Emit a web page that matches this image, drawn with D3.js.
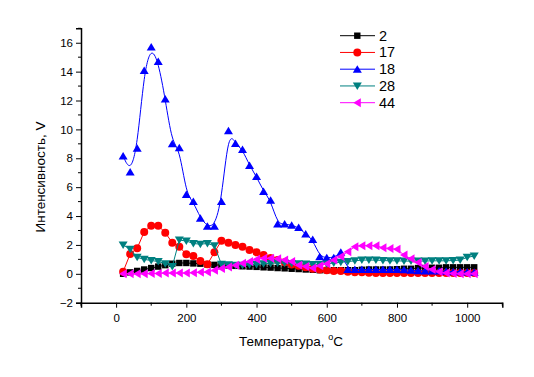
<!DOCTYPE html>
<html><head><meta charset="utf-8">
<script src="https://cdn.jsdelivr.net/npm/d3@7/dist/d3.min.js"></script>
<style>body{margin:0;background:#fff}svg{display:block}text{font-family:"Liberation Sans",Arial,sans-serif}</style>
</head><body>
<script>
const temps = d3.range(20, 1021, 20);
const s2 = [0.0,0.1,0.2,0.3,0.4,0.5,0.6,0.7,0.75,0.75,0.72,0.7,0.65,0.62,0.6,0.58,0.55,0.52,0.5,0.48,0.45,0.43,0.4,0.38,0.35,0.33,0.3,0.28,0.25,0.25,0.25,0.25,0.25,0.25,0.28,0.3,0.3,0.3,0.3,0.32,0.35,0.35,0.4,0.4,0.42,0.42,0.45,0.45,0.45,0.45,0.45];
const s17 = [0.15,1.37,1.77,2.9,3.33,3.33,2.85,2.15,1.88,1.35,1.23,0.89,0.66,1.49,2.29,2.15,2.0,1.88,1.65,1.49,1.3,1.1,0.95,0.8,0.65,0.55,0.45,0.35,0.3,0.25,0.2,0.2,0.15,0.1,0.1,0.08,0.05,0.05,0.05,0.05,0.05,0.05,0.05,0.05,0.05,0.05,0.05,0.05,0.05,0.05,0.05];
const s18 = [8.16,7.05,8.69,14.07,15.7,14.7,12.1,9.0,8.73,5.5,5.0,3.84,3.3,3.3,5.0,9.9,9.03,8.6,7.5,6.73,5.7,5.1,3.45,3.45,3.37,3.2,2.75,2.38,1.19,1.12,1.12,1.5,0.3,0.3,0.3,0.3,0.3,0.3,0.3,0.3,0.28,0.25,0.22,0.2,0.2,0.2,0.18,0.15,0.15,0.12,0.1];
const s28 = [2.0,1.7,1.14,1.0,0.92,0.85,0.7,0.5,2.34,2.27,2.1,2.05,2.1,1.95,0.66,0.62,0.6,0.6,0.62,0.65,0.7,0.72,0.75,0.75,0.72,0.7,0.68,0.65,0.65,0.68,0.75,0.8,0.85,0.9,0.95,0.95,0.95,0.92,0.9,0.9,0.88,0.88,0.88,0.88,0.9,0.9,0.9,0.92,0.95,1.14,1.23];
const s44 = [0.0,0.0,0.0,0.0,0.02,0.03,0.05,0.05,0.05,0.06,0.08,0.1,0.13,0.25,0.36,0.48,0.6,0.73,0.85,1.0,1.07,1.07,1.05,0.95,0.85,0.6,0.5,0.4,0.55,0.7,0.95,1.2,1.53,1.88,1.95,1.95,1.95,1.8,1.75,1.7,1.3,1.04,0.78,0.5,0.3,0.15,0.05,0.02,0.0,0.0,0.0];
const seriesNames = ["2","17","18","28","44"];
const xTicks = [0,200,400,600,800,1000];
const yTicks = [-2,0,2,4,6,8,10,12,14,16];

const series = [
  {name:"2", values:s2, color:"#000000", shape:"square", curve:d3.curveLinear},
  {name:"17", values:s17, color:"#ff0000", shape:"circle", curve:d3.curveLinear},
  {name:"18", values:s18, color:"#0000ff", shape:"up", curve:d3.curveBasis},
  {name:"28", values:s28, color:"#008080", shape:"down", curve:d3.curveLinear},
  {name:"44", values:s44, color:"#ff00ff", shape:"left", curve:d3.curveLinear}
];

const W=534,H=377;
const svg=d3.select("body").append("svg").attr("width",W).attr("height",H);
const x=d3.scaleLinear().domain([-100,1100]).range([81,502.3]);
const y=d3.scaleLinear().domain([-2,17]).range([302.7,28.3]);

function marker(shape){
  const r=4;
  switch(shape){
    case "square": return `M${-3.2},${-3.2}h6.4v6.4h-6.4z`;
    case "circle": return d3.symbol(d3.symbolCircle, 50)();
    case "up": return `M0,${-r}L${r+0.5},${r-0.5}L${-r-0.5},${r-0.5}Z`;
    case "down": return `M0,${r}L${r+0.5},${-r+0.5}L${-r-0.5},${-r+0.5}Z`;
    case "left": return `M${-r},0L${r-0.5},${-r-0.5}L${r-0.5},${r+0.5}Z`;
  }
}

// axes
const xAxis=d3.axisBottom(x).tickValues(xTicks).tickSize(5).tickFormat(d3.format("d"));
const gx=svg.append("g").attr("transform",`translate(0,${y(-2)})`).call(xAxis);
const xMinor=d3.range(-100,1101,100).filter(v=>!xTicks.includes(v));
gx.selectAll(".minor").data(xMinor).enter().append("line").attr("x1",d=>x(d)).attr("x2",d=>x(d)).attr("y1",0).attr("y2",3).attr("stroke","#000");
const yAxis=d3.axisLeft(y).tickValues(yTicks).tickSize(5);
const gy=svg.append("g").attr("transform",`translate(${x(-100)},0)`).call(yAxis);
const yMinor=d3.range(-1,17.01,2);
gy.selectAll(".minor").data(yMinor).enter().append("line").attr("x1",0).attr("x2",-3).attr("y1",d=>y(d)).attr("y2",d=>y(d)).attr("stroke","#000");
[gx,gy].forEach(g=>{g.select(".domain").attr("stroke-width",1.5);g.selectAll("text").attr("font-size",11.5).attr("fill","#000").attr("font-family","Liberation Sans, Arial, sans-serif");});
gx.selectAll(".tick text").attr("dy","1em");

// axis titles
const xt=svg.append("text").attr("x",291).attr("y",346).attr("text-anchor","middle").attr("font-size",13.5);
xt.append("tspan").text("Температура, ");
xt.append("tspan").text("o").attr("font-size",9).attr("dy",-6);
xt.append("tspan").text("C").attr("dy",6);
svg.append("text").attr("transform","translate(45,177) rotate(-90)").attr("text-anchor","middle").attr("font-size",13.5).text("Интенсивность, V");

// series
series.forEach(s=>{
  const pts=temps.map((t,i)=>[t,s.values[i]]);
  const line=d3.line().x(d=>x(d[0])).y(d=>y(d[1])).curve(s.curve);
  svg.append("path").attr("d",line(pts)).attr("fill","none").attr("stroke",s.color).attr("stroke-width",1);
  svg.append("g").selectAll("path").data(pts).enter().append("path")
    .attr("d",marker(s.shape)).attr("transform",d=>`translate(${x(d[0])},${y(d[1])})`).attr("fill",s.color);
});

// legend
const leg=svg.append("g");
seriesNames.forEach((n,i)=>{
  const s=series[i];
  const yy=35.7+i*16.75;
  leg.append("line").attr("x1",340).attr("x2",375).attr("y1",yy).attr("y2",yy).attr("stroke",s.color).attr("stroke-width",1);
  leg.append("path").attr("d",marker(s.shape)).attr("transform",`translate(357.3,${yy})`).attr("fill",s.color);
  leg.append("text").attr("x",379).attr("y",yy+5).attr("font-size",14.5).text(n);
});
</script>
</body></html>
